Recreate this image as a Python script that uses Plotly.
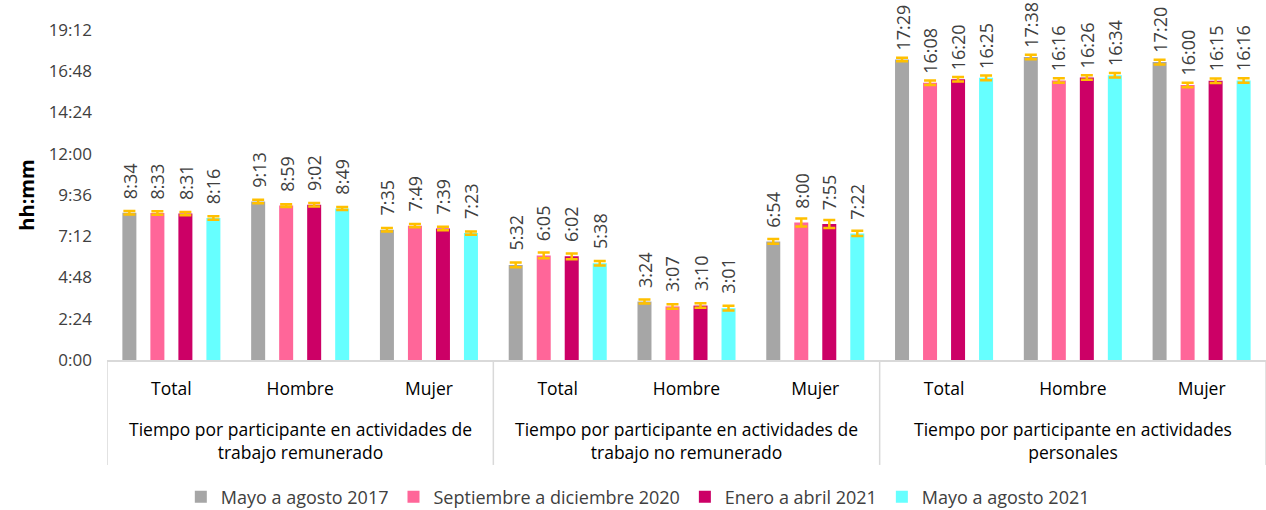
import plotly.graph_objects as go

# categories
groups = ["Tiempo por participante en actividades de<br>trabajo remunerado",
          "Tiempo por participante en actividades de<br>trabajo no remunerado",
          "Tiempo por participante en actividades<br>personales"]
subcats = ["Total", "Hombre", "Mujer"]
series_names = ["Mayo a agosto 2017", "Septiembre a diciembre 2020",
                "Enero a abril 2021", "Mayo a agosto 2021"]
colors = ["#A6A6A6", "#FF6699", "#CC0066", "#66FFFF"]

# values hh:mm, order: remunerado (T,H,M), no remunerado (T,H,M), personales (T,H,M)
may2017 = ["8:34", "9:13", "7:35", "5:32", "3:24", "6:54", "17:29", "17:38", "17:20"]
sep2020 = ["8:33", "8:59", "7:49", "6:05", "3:07", "8:00", "16:08", "16:16", "16:00"]
ene2021 = ["8:31", "9:02", "7:39", "6:02", "3:10", "7:55", "16:20", "16:26", "16:15"]
may2021 = ["8:16", "8:49", "7:23", "5:38", "3:01", "7:22", "16:25", "16:34", "16:16"]

# error margins in minutes (estimated)
err2017 = [6, 6, 6, 8, 7, 8, 6, 8, 8]
err2020 = [6, 5, 6, 10, 8, 14, 8, 8, 8]
errE2021 = [6, 6, 6, 10, 8, 14, 8, 8, 8]
errM2021 = [6, 5, 6, 8, 8, 9, 8, 8, 8]

y_ticks = ["0:00", "2:24", "4:48", "7:12", "9:36", "12:00", "14:24", "16:48", "19:12"]


def to_hours(s):
    h, m = s.split(":")
    return int(h) + int(m) / 60


series = [may2017, sep2020, ene2021, may2021]
errors = [err2017, err2020, errE2021, errM2021]
xpos = list(range(len(groups) * len(subcats)))
bargap = 0.13
slot = (1 - bargap) / len(series)

fig = go.Figure()
annotations = []
for j, (name, vals, errs, col) in enumerate(zip(series_names, series, errors, colors)):
    hours = [to_hours(v) for v in vals]
    fig.add_trace(go.Bar(
        x=xpos, y=hours, name=name, marker=dict(color=col, line=dict(width=0)),
        error_y=dict(type="data", array=[e / 60 for e in errs], color="#FFC000",
                     thickness=2.5, width=6),
        hoverinfo="skip"))
    for i, (h, v) in enumerate(zip(hours, vals)):
        annotations.append(dict(
            x=i + (j - 1.5) * slot, y=h, xref="x", yref="y", text=v,
            textangle=-90, showarrow=False, yanchor="middle", yshift=32,
            borderpad=0, font=dict(size=18, color="#404040")))

# group labels under the axis
for g, label in enumerate(groups):
    annotations.append(dict(
        x=g * 3 + 1, y=-0.243, xref="x", yref="paper", text=label,
        showarrow=False, yanchor="middle", font=dict(size=17.5, color="#000000")))

shapes = []
for k in range(len(groups) + 1):
    shapes.append(dict(type="line", xref="x", yref="paper",
                       x0=k * 3 - 0.5, x1=k * 3 - 0.5, y0=0, y1=-0.318,
                       line=dict(color="#D9D9D9", width=1.5)))

fig.update_layout(
    width=1266, height=510,
    margin=dict(l=107, r=0, t=30, b=150, autoexpand=False),
    plot_bgcolor="white", paper_bgcolor="white",
    font=dict(family="Open Sans", size=17, color="#404040"),
    barmode="group", bargap=bargap, bargroupgap=0.5,
    showlegend=True,
    legend=dict(orientation="h", x=0.458, xanchor="center", y=-0.415, yanchor="middle",
                font=dict(size=18, color="#404040"), traceorder="normal",
                itemwidth=30, tracegroupgap=0),
    annotations=annotations,
    shapes=shapes,
)
fig.update_xaxes(
    range=[-0.5, 8.5], tickmode="array", tickvals=xpos,
    ticktext=subcats * len(groups), showgrid=False, zeroline=False,
    showline=True, linecolor="#D9D9D9", linewidth=1.5, ticks="",
    ticklabelstandoff=12, tickfont=dict(size=17.5, color="#000000"))
fig.update_yaxes(
    range=[0, 19.2], tickmode="array", tickvals=[to_hours(t) for t in y_ticks],
    ticktext=y_ticks, showgrid=False, zeroline=False, showline=False,
    ticks="", ticklabelstandoff=14,
    title=dict(text="<b>hh:mm</b>", font=dict(size=20, color="#000000"), standoff=8),
    tickfont=dict(size=17, color="#404040"))

# drop the default body margin so the figure fills the window
fig.write_html("out.html", config={"displayModeBar": False},
               post_script="document.body.style.margin = '0';")
